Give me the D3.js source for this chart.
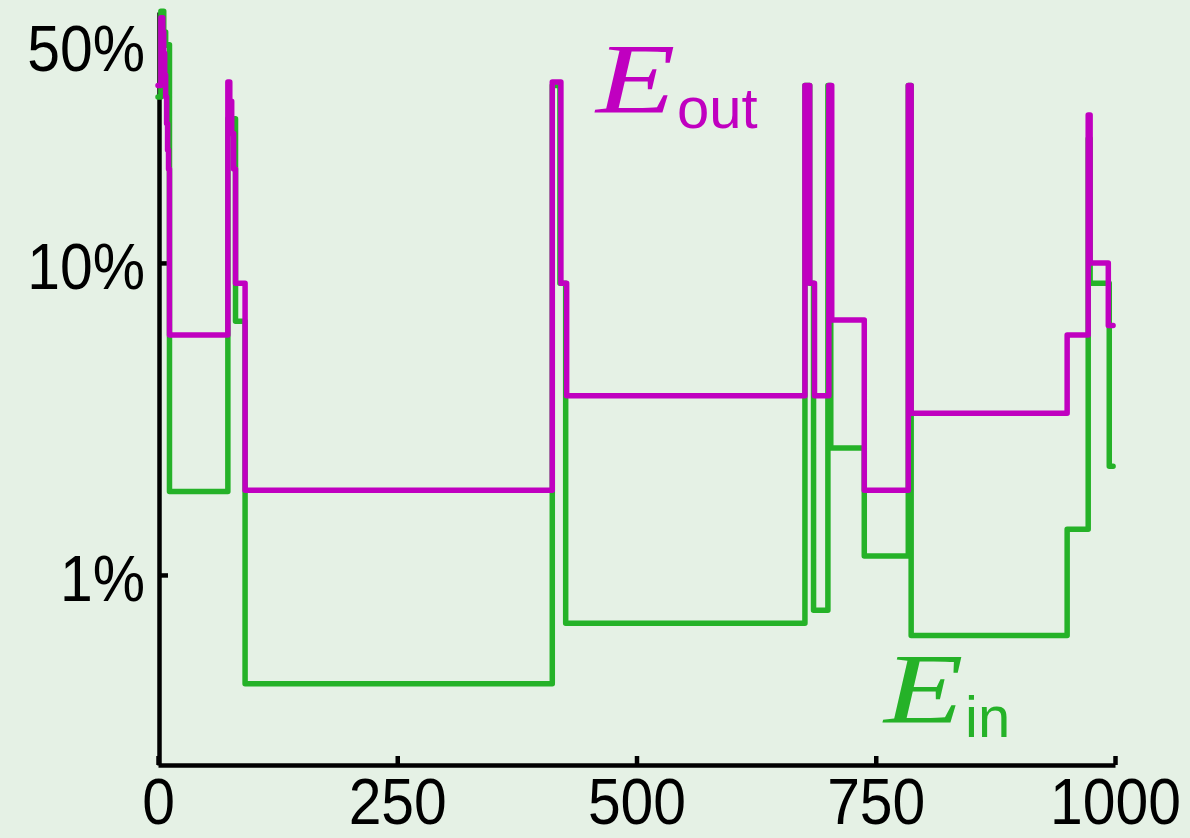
<!DOCTYPE html>
<html>
<head>
<meta charset="utf-8">
<script src="https://cdn.jsdelivr.net/npm/d3@7"></script>
<style>
  html, body { margin: 0; padding: 0; background: #e5f1e5; }
  svg { display: block; }
</style>
</head>
<body>
<div id="chart"></div>
<script>
// step values of the two error curves: [iteration, error in %]
const eIn = [
    [0, 34], [3, 64], [6, 55], [8, 50], [12, 1.85],
    [73, 29], [81, 6.5], [91, 0.448],
    [412, 37], [420, 8.6], [426, 0.70],
    [676, 37], [681, 8.6], [685, 0.77],
    [700, 37], [703, 2.55], [738, 1.15],
    [784, 37], [787, 0.64], [950, 1.40],
    [972, 25], [974, 8.6], [994, 2.23], [998, 2.23]
];

const eOut = [
    [0, 37], [3, 61], [5, 55], [6, 47], [7, 40], [8, 34], [9, 28], [10, 23], [11, 20], [12, 5.87],
    [73, 38], [75, 33], [77, 26], [79, 20], [81, 8.6], [91, 1.87],
    [412, 38], [421, 8.6], [427, 3.75],
    [676, 37], [681, 8.6], [686, 3.75],
    [701, 37], [704, 6.56], [738, 1.87],
    [784, 37], [787, 3.3], [950, 5.87],
    [972, 29.8], [974, 10], [993, 6.3], [998, 6.3]
];

const xTicks = [0, 250, 500, 750, 1000];
const yTicks = [1, 10, 50];

const width = 1190;
const height = 838;
const colIn = "#25b228";
const colOut = "#c000c0";

const svg = d3.select("#chart")
    .append("svg")
    .attr("width", width)
    .attr("height", height);

const x = d3.scaleLinear().domain([0, 1000]).range([158, 1115]);
const y = d3.scaleLog().domain([0.246, 63.7]).range([765, 12]);

const tickFont = "'Liberation Sans', sans-serif";

// оси
const xAxis = svg.append("g")
    .attr("transform", "translate(0,765)")
    .call(d3.axisBottom(x).tickValues(xTicks).tickFormat(d3.format("d"))
        .tickSizeInner(-9).tickSizeOuter(0).tickPadding(14));

const yAxis = svg.append("g")
    .attr("transform", "translate(159,0)")
    .call(d3.axisLeft(y).tickValues(yTicks).tickFormat(d => d + "%")
        .tickSizeInner(-9).tickSizeOuter(0).tickPadding(15));

[xAxis, yAxis].forEach(g => {
    g.select(".domain").attr("stroke", "#000").attr("stroke-width", 4.5);
    g.selectAll(".tick line").attr("stroke", "#000").attr("stroke-width", 4.5);
    g.selectAll(".tick text")
        .attr("fill", "#000")
        .attr("font-family", tickFont)
        .attr("font-size", "64px")
        .attr("transform", "scale(0.92,1)");
});
yAxis.selectAll(".tick text").attr("dy", "0.4em");

// линии
const line = d3.line()
    .x(d => x(d[0]))
    .y(d => y(d[1]))
    .curve(d3.curveStepAfter);

svg.append("path")
    .datum(eIn)
    .attr("d", line)
    .attr("fill", "none")
    .attr("stroke", colIn)
    .attr("stroke-width", 5.5)
    .attr("stroke-linejoin", "round")
    .attr("stroke-linecap", "round");

svg.append("path")
    .datum(eOut)
    .attr("d", line)
    .attr("fill", "none")
    .attr("stroke", colOut)
    .attr("stroke-width", 5.5)
    .attr("stroke-linejoin", "round")
    .attr("stroke-linecap", "round");

// подписи
function addLabel(xE, yE, xSub, ySub, sub, color) {
    svg.append("text")
        .attr("transform", `translate(${xE},${yE}) scale(1.3,1)`)
        .attr("font-family", "'Liberation Serif', serif")
        .attr("font-style", "italic")
        .attr("font-size", "100px")
        .attr("fill", color)
        .text("E");
    svg.append("text")
        .attr("x", xSub)
        .attr("y", ySub)
        .attr("font-family", "'Liberation Sans', sans-serif")
        .attr("font-size", "58px")
        .attr("fill", color)
        .text(sub);
}

addLabel(596, 112, 677, 128, "out", colOut);
addLabel(884, 722, 965, 737, "in", colIn);
</script>
</body>
</html>
